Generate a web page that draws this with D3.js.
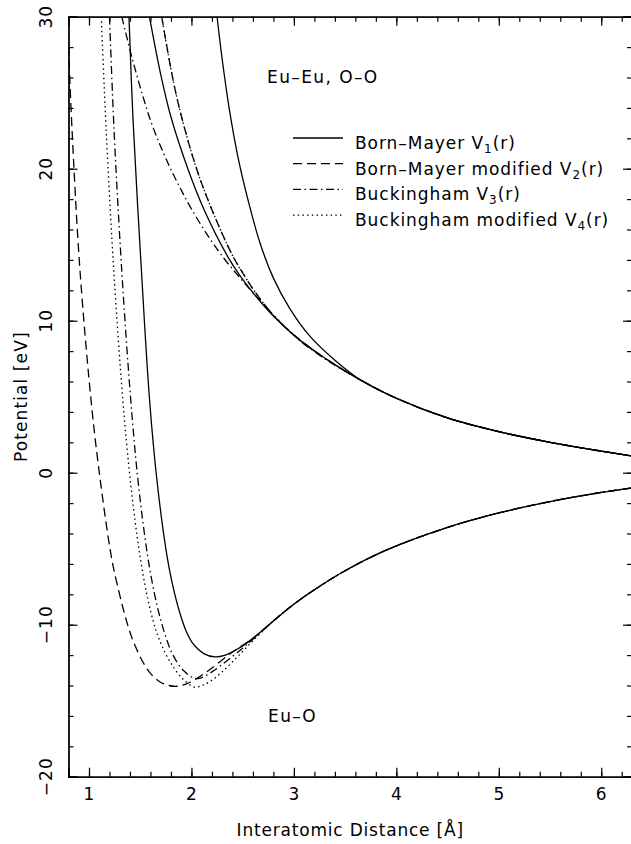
<!DOCTYPE html>
<html><head><meta charset="utf-8">
<script src="https://cdn.jsdelivr.net/npm/d3@7"></script>
<style>
body{margin:0;background:#fff}
text{font-family:"DejaVu Sans",sans-serif;fill:#000}
</style>
</head><body>
<svg id="c" width="631" height="844"></svg>
<script>
// ---------- data ----------
const xDomain=[0.8,6.3];
const yDomain=[-20,30];
const xTickValues=[1,2,3,4,5,6];
const yTickValues=[-20,-10,0,10,20,30];

// Eu-O (attractive) curves
const euO_V1=[[1.39,30],[1.43,23.2],[1.51,13.5],[1.59,4.9],[1.66,-0.3],[1.75,-5.0],[1.81,-7.2],[1.89,-9.3],[1.95,-10.45],[2.015,-11.25],[2.12,-11.9],[2.23,-12.12],[2.33,-12.0],[2.45,-11.6],[2.6,-10.9],[2.8,-9.75],[3.0,-8.65],[3.2,-7.7],[3.5,-6.45],[3.9,-5.1],[4.5,-3.6],[5.0,-2.65],[5.5,-1.9],[6.0,-1.3],[6.3,-1.0]];
const euO_V2=[[0.8,28],[0.835,22.5],[0.91,13.5],[1.03,4.1],[1.12,-1.0],[1.205,-5.0],[1.25,-6.6],[1.368,-9.8],[1.43,-11.05],[1.53,-12.5],[1.6,-13.2],[1.69,-13.75],[1.78,-14.0],[1.86,-14.05],[1.95,-13.9],[2.05,-13.55],[2.2,-12.85],[2.4,-11.8],[2.6,-10.9],[2.8,-9.75],[3.0,-8.65],[3.2,-7.7],[3.5,-6.45],[3.9,-5.1],[4.5,-3.6],[5.0,-2.65],[5.5,-1.9],[6.0,-1.3],[6.3,-1.0]];
const euO_V3=[[1.2,30],[1.245,22.5],[1.318,13.5],[1.405,5.0],[1.475,-0.3],[1.545,-4.2],[1.6,-6.6],[1.67,-8.9],[1.745,-10.7],[1.82,-12.0],[1.92,-13.0],[2.05,-13.55],[2.2,-13.1],[2.35,-12.35],[2.5,-11.55],[2.6,-10.95],[2.8,-9.75],[3.0,-8.65],[3.2,-7.7],[3.5,-6.45],[3.9,-5.1],[4.5,-3.6],[5.0,-2.65],[5.5,-1.9],[6.0,-1.3],[6.3,-1.0]];
const euO_V4=[[1.12,30],[1.168,22.5],[1.24,13.5],[1.33,4.8],[1.4,-0.3],[1.47,-4.2],[1.52,-6.4],[1.58,-8.5],[1.66,-10.5],[1.74,-11.8],[1.82,-12.75],[1.92,-13.6],[2.03,-14.1],[2.12,-13.95],[2.21,-13.6],[2.3,-13.1],[2.4,-12.45],[2.5,-11.75],[2.6,-11.05],[2.7,-10.4],[2.8,-9.75],[3.0,-8.65],[3.2,-7.7],[3.5,-6.45],[3.9,-5.1],[4.5,-3.6],[5.0,-2.65],[5.5,-1.9],[6.0,-1.3],[6.3,-1.0]];

// Eu-Eu, O-O (repulsive) curves
const rep_V1_outer=[[2.25,30],[2.3,27.2],[2.37,23.9],[2.45,20.9],[2.55,18.0],[2.67,15.1],[2.8,12.8],[2.96,10.8],[3.16,8.95],[3.4,7.4],[3.65,6.1],[4.0,4.9],[4.5,3.6],[5.0,2.7],[5.5,2.0],[6.0,1.42],[6.3,1.1]];
const rep_V1_inner=[[1.59,30],[1.7,26.2],[1.8,23.4],[1.97,19.9],[2.13,17.2],[2.36,14.15],[2.47,13.0],[2.6,11.85],[2.8,10.3],[3.03,8.87],[3.3,7.55],[3.65,6.1],[4.0,4.9],[4.5,3.6],[5.0,2.7],[5.5,2.0],[6.0,1.42],[6.3,1.1]];
const rep_V2=[[1.71,30],[1.81,26.2],[1.9,23.5],[2.05,20.0],[2.2,17.3],[2.4,14.3],[2.5,13.15],[2.62,11.9],[2.8,10.35],[3.03,8.9],[3.3,7.55],[3.65,6.1],[4.0,4.9],[4.5,3.6],[5.0,2.7],[5.5,2.0],[6.0,1.42],[6.3,1.1]];
const rep_V3=[[1.32,30],[1.42,27.3],[1.52,24.9],[1.61,23.0],[1.71,21.3],[1.81,19.8],[1.9,18.6],[2.0,17.35],[2.15,15.7],[2.3,14.25],[2.47,12.85],[2.7,11.1],[3.03,8.85],[3.3,7.5],[3.65,6.1],[4.0,4.9],[4.5,3.6],[5.0,2.7],[5.5,2.0],[6.0,1.42],[6.3,1.1]];
const rep_V4=[[1.71,30],[1.81,26.2],[1.9,23.5],[2.05,20.0],[2.2,17.3],[2.4,14.3],[2.5,13.15],[2.62,11.9],[2.8,10.35],[3.03,8.9],[3.3,7.55],[3.65,6.1],[4.0,4.9],[4.5,3.6],[5.0,2.7],[5.5,2.0],[6.0,1.42],[6.3,1.1]];

const legendLabels=[["Born–Mayer V","1","(r)"],["Born–Mayer modified V","2","(r)"],["Buckingham V","3","(r)"],["Buckingham modified V","4","(r)"]];
const styles={V1:null,V2:"9,5",V3:"8,3.5,1.5,3.5",V4:"1.5,3.2"};

// ---------- layout ----------
const svg=d3.select("#c");
const L=68.5,R=632,T=16.7,B=776.7;
const FS=17, LS="1.1px";
const x=d3.scaleLinear().domain(xDomain).range([L,R]);
const y=d3.scaleLinear().domain(yDomain).range([B,T]);

svg.append("defs").append("clipPath").attr("id","clip")
  .append("rect").attr("x",L).attr("y",T).attr("width",R-L).attr("height",B-T);

const line=d3.line().x(d=>x(d[0])).y(d=>y(d[1])).curve(d3.curveCatmullRom.alpha(0.5));
const g=svg.append("g").attr("clip-path","url(#clip)");
const series=[
  [euO_V1,"V1"],[euO_V2,"V2"],[euO_V3,"V3"],[euO_V4,"V4"],
  [rep_V1_outer,"V1"],[rep_V1_inner,"V1"],[rep_V2,"V2"],[rep_V3,"V3"],[rep_V4,"V4"]
];
series.forEach(([d,k])=>{
  g.append("path").attr("d",line(d)).attr("fill","none").attr("stroke","#000")
   .attr("stroke-width",1.3).attr("stroke-dasharray",styles[k]);
});

// ---------- axes ----------
const xMinor=d3.range(0.8,6.31,0.2).map(v=>+v.toFixed(2));
const yMinor=d3.range(-20,30.1,2);
function ax(gen,scale,vals,size,tr){
  svg.append("g").attr("transform",tr).call(gen(scale).tickValues(vals).tickSize(size).tickFormat(""))
    .call(s=>{s.selectAll("path").attr("stroke","#000").attr("stroke-width",1.3);s.selectAll("line").attr("stroke","#000").attr("stroke-width",1.2);});
}
ax(d3.axisBottom,x,xMinor,-5,`translate(0,${B})`);
ax(d3.axisBottom,x,xTickValues,-9,`translate(0,${B})`);
ax(d3.axisTop,x,xMinor,-5,`translate(0,${T})`);
ax(d3.axisTop,x,xTickValues,-9,`translate(0,${T})`);
ax(d3.axisLeft,y,yMinor,-5,`translate(${L},0)`);
ax(d3.axisLeft,y,yTickValues,-9,`translate(${L},0)`);
ax(d3.axisRight,y,yMinor,-5,`translate(${R},0)`);
ax(d3.axisRight,y,yTickValues,-9,`translate(${R},0)`);

svg.append("g").selectAll("text").data(xTickValues).join("text")
  .attr("x",d=>x(d)).attr("y",800).attr("text-anchor","middle").attr("font-size",FS).text(d=>d);
svg.append("g").selectAll("text").data(yTickValues).join("text")
  .attr("transform",d=>`translate(52,${y(d)}) rotate(-90)`).attr("text-anchor","middle").attr("font-size",FS)
  .attr("letter-spacing",LS).text(d=>d<0?"−"+Math.abs(d):d);

svg.append("text").attr("x",(L+R)/2).attr("y",836).attr("text-anchor","middle").attr("font-size",FS)
  .attr("letter-spacing","0.8px").text("Interatomic Distance [Å]");
svg.append("text").attr("transform",`translate(27,${(T+B)/2}) rotate(-90)`).attr("text-anchor","middle").attr("font-size",FS)
  .attr("letter-spacing",LS).text("Potential [eV]");

svg.append("text").attr("x",267).attr("y",83).attr("font-size",FS).attr("letter-spacing","1.4px").text("Eu–Eu, O–O");
svg.append("text").attr("x",268).attr("y",722).attr("font-size",FS).attr("letter-spacing","1.4px").text("Eu–O");

// ---------- legend ----------
const keys=["V1","V2","V3","V4"];
const lg=svg.append("g");
legendLabels.forEach((lab,i)=>{
  const by=149+i*25.7;
  lg.append("line").attr("x1",293).attr("x2",343).attr("y1",by-11).attr("y2",by-11)
    .attr("stroke","#000").attr("stroke-width",1.3).attr("stroke-dasharray",styles[keys[i]]);
  const t=lg.append("text").attr("x",355).attr("y",by).attr("font-size",FS).attr("letter-spacing","0.95px");
  t.append("tspan").text(lab[0]);
  t.append("tspan").attr("font-size",12).attr("dy",4).text(lab[1]);
  t.append("tspan").attr("dy",-4).text(lab[2]);
});
</script>
</body></html>
